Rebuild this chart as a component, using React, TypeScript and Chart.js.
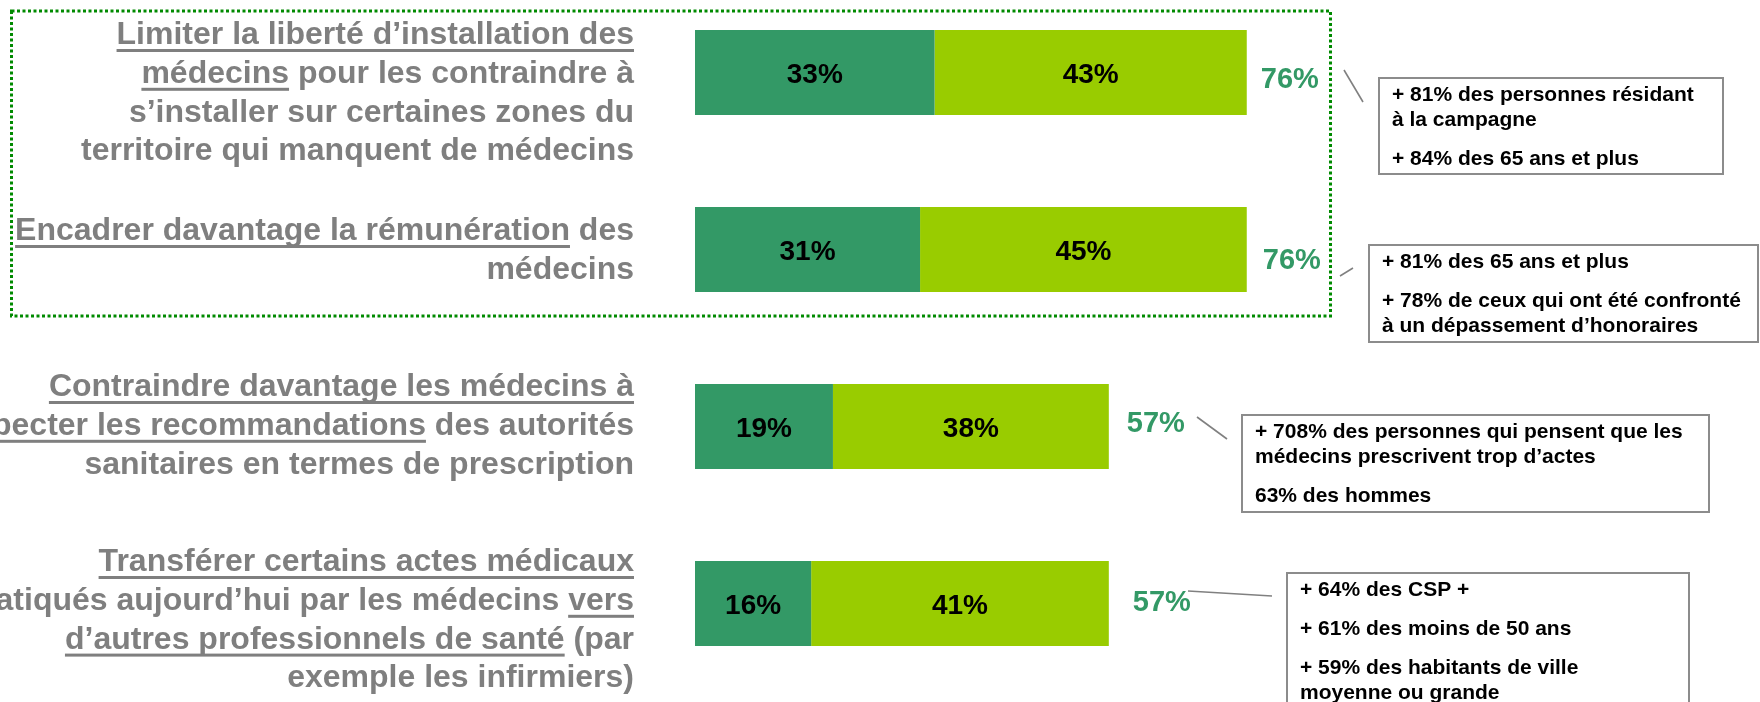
import React, { useEffect, useRef } from "react";
import { Chart, registerables } from "chart.js";

Chart.register(...registerables);

// ---------- DATA ----------
const categories = [
  "Limiter la liberté d’installation des médecins",
  "Encadrer davantage la rémunération des médecins",
  "Contraindre davantage les médecins à respecter les recommandations",
  "Transférer certains actes médicaux vers d’autres professionnels",
];
const toutAFaitValues = [33, 31, 19, 16];
const plutotValues = [43, 45, 38, 41];

type Seg = [string, boolean]; // [text, underlined]
const labelLines: Seg[][][] = [
  [
    [["Limiter la liberté d’installation des", true]],
    [["médecins", true], [" pour les contraindre à", false]],
    [["s’installer sur certaines zones du", false]],
    [["territoire qui manquent de médecins", false]],
  ],
  [
    [["Encadrer davantage la rémunération", true], [" des", false]],
    [["médecins", false]],
  ],
  [
    [["Contraindre davantage les médecins à", true]],
    [["respecter les recommandations", true], [" des autorités", false]],
    [["sanitaires en termes de prescription", false]],
  ],
  [
    [["Transférer certains actes médicaux", true]],
    [["pratiqués aujourd’hui par les médecins ", false], ["vers", true]],
    [["d’autres professionnels de santé", true], [" (par", false]],
    [["exemple les infirmiers)", false]],
  ],
];

const calloutTexts: string[][][] = [
  [["+ 81% des personnes résidant", "à la campagne"], ["+ 84% des 65 ans et plus"]],
  [["+ 81% des 65 ans et plus"], ["+ 78% de ceux qui ont été confronté", "à un dépassement d’honoraires"]],
  [["+ 708% des personnes qui pensent que les", "médecins prescrivent trop d’actes"], ["63% des hommes"]],
  [["+ 64% des CSP +"], ["+ 61% des moins de 50 ans"], ["+ 59% des habitants de ville", "moyenne ou grande"]],
];

// ---------- LAYOUT / STYLE ----------
const DARK = "#339966";
const LIGHT = "#99CC00";
const GRAY_TEXT = "#7f7f7f";
const FONT = '"Liberation Sans", Arial, sans-serif';

const LABEL_RIGHT = 634;
const LABEL_LINE_H = 38.8;
const labelBaselineOffsets = [-28.5, -9.5, -30.5, -32.5];
const totalOffsets = [[14, 5], [16, 9], [18, -5], [24, -3]];
const calloutBoxes = [
  { x: 1379, dy: 5.5, w: 344, h: 96 },
  { x: 1369, dy: -4.5, w: 389, h: 97 },
  { x: 1242, dy: -11.5, w: 467, h: 97 },
  { x: 1287, dy: -30.5, w: 402, h: 140 },
];
const connectors = [
  [1344, -2.5, 1363, 29.5],
  [1340, 26.5, 1353, 18.5],
  [1197, -9.5, 1227, 12.5],
  [1188, -12.5, 1272, -7.5],
];
const groupBox = { x: 11.5, y: 11, w: 1319, h: 305 };

const overlayPlugin = {
  id: "overlay",
  beforeDatasetsDraw(chart: any) {
    const ctx = chart.ctx as CanvasRenderingContext2D;
    ctx.save();
    ctx.strokeStyle = "#008a00";
    ctx.lineWidth = 3;
    ctx.setLineDash([3, 2.5]);
    ctx.strokeRect(groupBox.x, groupBox.y, groupBox.w, groupBox.h);
    ctx.restore();
  },
  afterDatasetsDraw(chart: any) {
    const ctx = chart.ctx as CanvasRenderingContext2D;
    const yScale = chart.scales.y;
    ctx.save();

    // Left category labels
    ctx.font = `bold 32px ${FONT}`;
    ctx.textAlign = "left";
    ctx.textBaseline = "alphabetic";
    labelLines.forEach((lines, i) => {
      const cy = yScale.getPixelForValue(i);
      lines.forEach((segs, li) => {
        const baseline = cy + labelBaselineOffsets[i] + li * LABEL_LINE_H;
        const total = segs.reduce((s, sg) => s + ctx.measureText(sg[0]).width, 0);
        let x = LABEL_RIGHT - total;
        segs.forEach(([txt, ul]) => {
          const w = ctx.measureText(txt).width;
          ctx.fillStyle = GRAY_TEXT;
          ctx.fillText(txt, x, baseline);
          if (ul) {
            const leadStr = txt.slice(0, txt.length - txt.replace(/^\s+/, "").length);
            const leadW = leadStr ? ctx.measureText(leadStr).width : 0;
            const lw = ctx.measureText(txt.replace(/\s+$/, "")).width - leadW;
            ctx.fillRect(x + leadW, baseline + 5, lw, 3);
          }
          x += w;
        });
      });
    });

    // Segment value labels
    ctx.font = `bold 28px ${FONT}`;
    ctx.textAlign = "center";
    ctx.fillStyle = "#000";
    chart.data.datasets.forEach((ds: any, di: number) => {
      const meta = chart.getDatasetMeta(di);
      meta.data.forEach((el: any, j: number) => {
        const cx = (el.x + el.base) / 2;
        ctx.fillText(`${ds.data[j]}%`, cx, el.y + 10);
      });
    });

    // Totals
    ctx.font = `bold 29px ${FONT}`;
    ctx.textAlign = "left";
    ctx.fillStyle = DARK;
    const lastMeta = chart.getDatasetMeta(chart.data.datasets.length - 1);
    lastMeta.data.forEach((el: any, j: number) => {
      const total = chart.data.datasets.reduce((s: number, ds: any) => s + ds.data[j], 0);
      const [dx, dy] = totalOffsets[j];
      ctx.fillText(`${total}%`, el.x + dx, el.y + dy + 10.5);
    });

    // Callout boxes
    calloutBoxes.forEach((b, i) => {
      const cy = yScale.getPixelForValue(i);
      const top = cy + b.dy;
      ctx.fillStyle = "#fff";
      ctx.fillRect(b.x, top, b.w, b.h);
      ctx.strokeStyle = "#8c8c8c";
      ctx.lineWidth = 2;
      ctx.strokeRect(b.x, top, b.w, b.h);
      ctx.font = `bold 21px ${FONT}`;
      ctx.fillStyle = "#000";
      ctx.textAlign = "left";
      let baseline = top + 23;
      calloutTexts[i].forEach((para, pi) => {
        if (pi > 0) baseline += 39;
        para.forEach((line, li) => {
          if (li > 0) baseline += 25;
          ctx.fillText(line, b.x + 13, baseline);
        });
      });
    });

    // Connectors
    ctx.strokeStyle = "#808080";
    ctx.lineWidth = 1.6;
    connectors.forEach((c, i) => {
      const cy = yScale.getPixelForValue(i);
      ctx.beginPath();
      ctx.moveTo(c[0], cy + c[1]);
      ctx.lineTo(c[2], cy + c[3]);
      ctx.stroke();
    });

    ctx.restore();
  },
};

export default function App() {
  const ref = useRef<HTMLCanvasElement>(null);
  useEffect(() => {
    const canvas = ref.current;
    if (!canvas) return;
    const chart = new Chart(canvas, {
      type: "bar",
      data: {
        labels: categories,
        datasets: [
          { label: "Tout à fait", data: toutAFaitValues, backgroundColor: DARK, borderWidth: 0, clip: false } as any,
          { label: "Plutôt", data: plutotValues, backgroundColor: LIGHT, borderWidth: 0, clip: false } as any,
        ],
      },
      options: {
        indexAxis: "y",
        responsive: false,
        animation: false,
        devicePixelRatio: 1,
        layout: { padding: { left: 695, right: 339, top: 72.5, bottom: 98.5 } },
        datasets: { bar: { barPercentage: 0.48, categoryPercentage: 1 } },
        scales: {
          x: { stacked: true, min: 0, max: 100, display: false },
          y: { stacked: true, display: false, offset: false },
        },
        plugins: { legend: { display: false }, tooltip: { enabled: false } },
        events: [],
      } as any,
      plugins: [overlayPlugin],
    });
    return () => chart.destroy();
  }, []);
  return (
    <div style={{ position: "fixed", left: 0, top: 0, width: 1760, height: 702, background: "#fff" }}>
      <canvas ref={ref} width={1760} height={702} style={{ display: "block" }} />
    </div>
  );
}
